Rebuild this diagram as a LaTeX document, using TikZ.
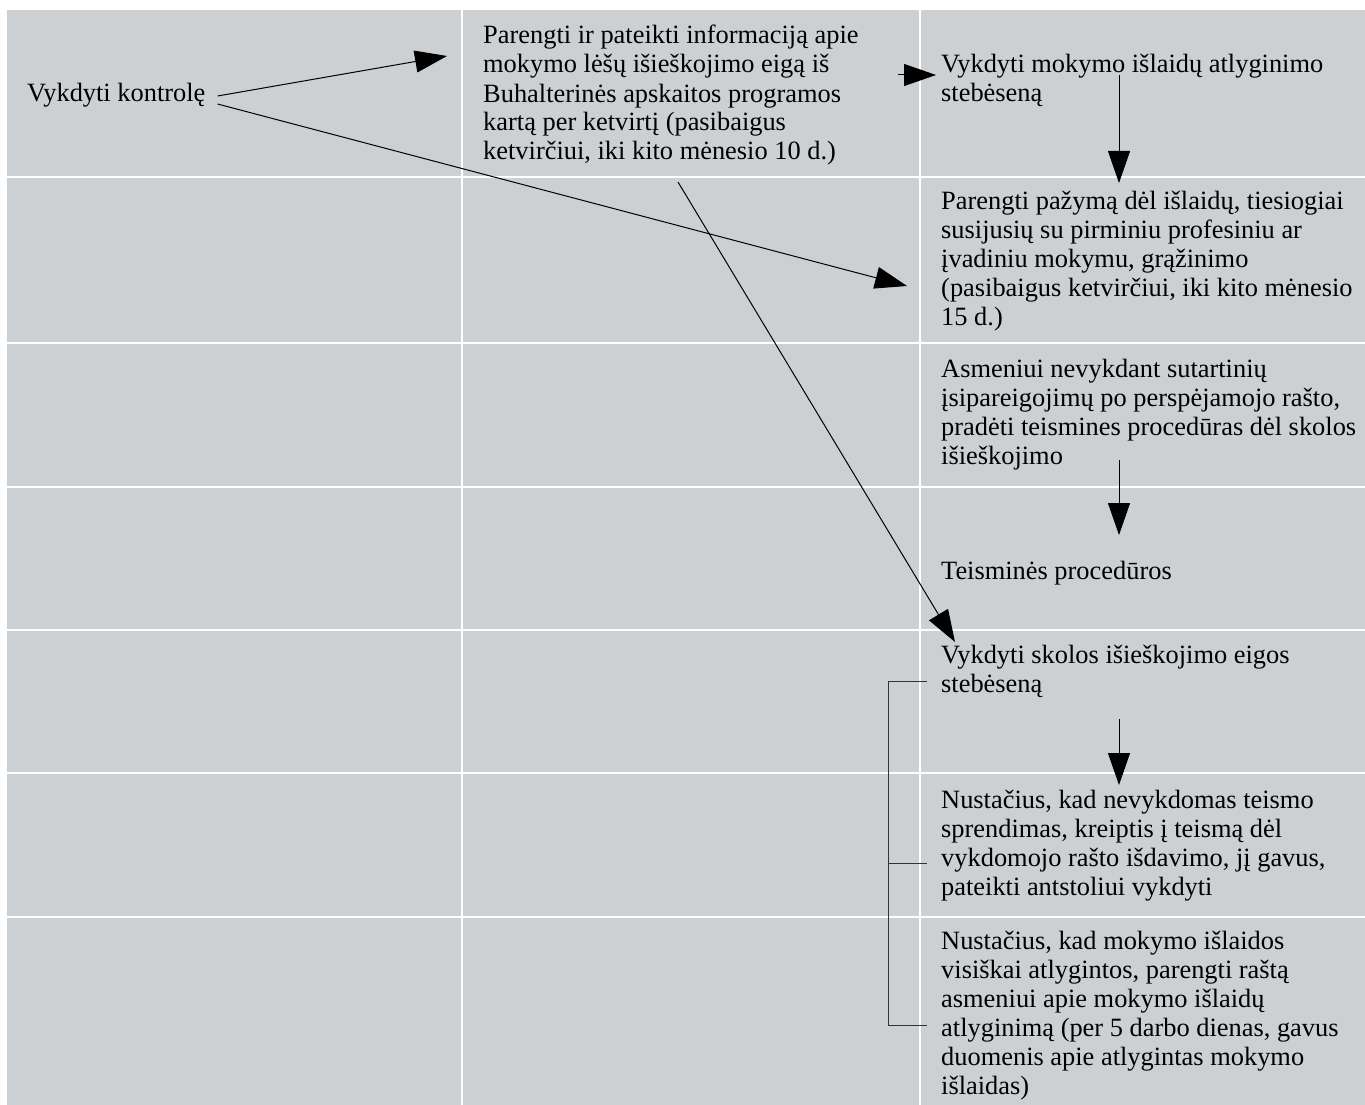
\documentclass[tikz,border=0pt]{standalone}
\usepackage{fontspec}
\setmainfont{Liberation Serif}
\usepackage{tikz}
\usetikzlibrary{arrows.meta}
\usetikzlibrary{positioning}
\definecolor{cellgray}{HTML}{CDD0D2}

\begin{document}
\begin{tikzpicture}[x=1pt,y=-1pt,>={Triangle[length=32pt,width=22pt]},
    text node/.style={anchor=base west,inner sep=0pt,align=left,font=\fontsize{26.4}{29}\selectfont},
    flow line/.style={->,line width=1pt},
    bracket line/.style={-,line width=1pt,color=black!80}]
   \useasboundingbox (0,0) rectangle (1365,1105);
   % table background
   \fill[cellgray] (7,10) rectangle (1365,1105);
   \draw[white,line width=2pt] (462,10) -- (462,1105);
   \draw[white,line width=2pt] (920,10) -- (920,1105);
   \foreach \y in {177,343,487,630,773,917}
      \draw[white,line width=2pt] (7,\y) -- (1365,\y);

   % left / middle column (nodes sit on the baseline of their last line)
   \node[text node] (ctrl) at (27,102) {Vykdyti kontrolę};
   \node[text node] (info) at (483,160) {Parengti ir pateikti informaciją apie\\mokymo lėšų išieškojimo eigą iš\\Buhalterinės apskaitos programos\\kartą per ketvirtį (pasibaigus\\ketvirčiui, iki kito mėnesio 10 d.)};

   % right column
   \node[text node] (monitor) at (941,102) {Vykdyti mokymo išlaidų atlyginimo\\stebėseną};
   \node[text node] (cert) at (941,325) {Parengti pažymą dėl išlaidų, tiesiogiai\\susijusių su pirminiu profesiniu ar\\įvadiniu mokymu, grąžinimo\\(pasibaigus ketvirčiui, iki kito mėnesio\\15 d.)};
   \node[text node] (court) at (941,464) {Asmeniui nevykdant sutartinių\\įsipareigojimų po perspėjamojo rašto,\\pradėti teismines procedūras dėl skolos\\išieškojimo};
   \node[text node] (courtproc) at (941,579) {Teisminės procedūros};
   \node[text node] (debtmon) at (941,692) {Vykdyti skolos išieškojimo eigos\\stebėseną};
   \node[text node] (writ) at (941,895) {Nustačius, kad nevykdomas teismo\\sprendimas, kreiptis į teismą dėl\\vykdomojo rašto išdavimo, jį gavus,\\pateikti antstoliui vykdyti};
   \node[text node] (repaid) at (941,1094) {Nustačius, kad mokymo išlaidos\\visiškai atlygintos, parengti raštą\\asmeniui apie mokymo išlaidų\\atlyginimą (per 5 darbo dienas, gavus\\duomenis apie atlygintas mokymo\\išlaidas)};

   % arrows
   \draw[flow line] ([shift={(12,-6)}]ctrl.base east) -- ([shift={(-36,-104)}]info.base west);
   \draw[flow line] ([shift={(12,2)}]ctrl.base east) -- ([shift={(-34,-39)}]cert.base west);
   \draw[flow line] ([shift={(195,22)}]info.base west) -- ([shift={(14,-50)}]debtmon.base west);
   \draw[flow line] ([shift={(-43,-27)}]monitor.base west) -- ([shift={(-5,-27)}]monitor.base west);
   \draw[flow line] ([shift={(178,-27)}]monitor.base west) -- ([shift={(178,-142)}]cert.base west);
   \draw[flow line] ([shift={(178,-4)}]court.base west) -- ([shift={(178,-44)}]courtproc.base west);
   \draw[flow line] ([shift={(178,27)}]debtmon.base west) -- ([shift={(178,-110)}]writ.base west);

   % bracket
   \draw[bracket line] ([shift={(-14,-11)}]debtmon.base west) -| ([shift={(-53,-69)}]repaid.base west) -- ([shift={(-14,-69)}]repaid.base west);
   \draw[bracket line] ([shift={(-53,-32)}]writ.base west) -- ([shift={(-14,-32)}]writ.base west);
\end{tikzpicture}
\end{document}
